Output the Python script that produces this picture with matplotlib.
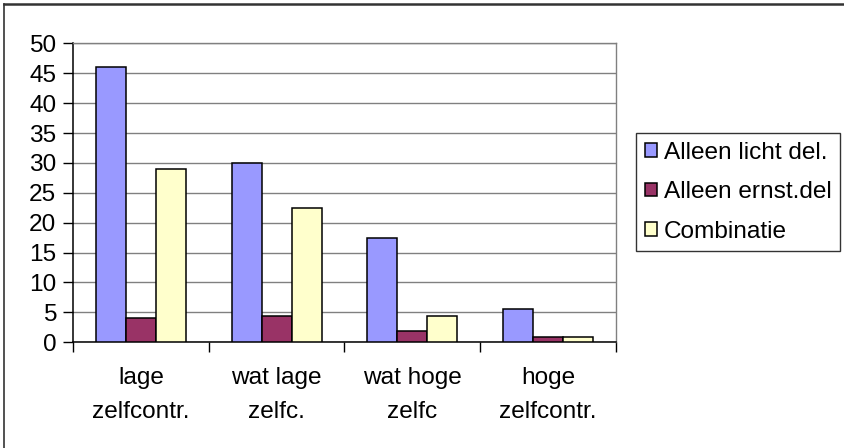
import matplotlib
matplotlib.use("Agg")
import matplotlib.pyplot as plt
import numpy as np

# categories and series values
categories = ["lage\nzelfcontr.", "wat lage\nzelfc.", "wat hoge\nzelfc", "hoge\nzelfcontr."]
licht = [46, 30, 17.5, 5.5]
ernst = [4, 4.4, 1.9, 0.85]
combinatie = [29, 22.5, 4.4, 0.9]

series_names = ["Alleen licht del.", "Alleen ernst.del", "Combinatie"]
colors = ["#9999FF", "#993366", "#FFFFCC"]

plt.rcParams["font.family"] = ["Liberation Sans", "DejaVu Sans"]
plt.rcParams["font.size"] = 17.6

fig = plt.figure(figsize=(8.45, 4.48), dpi=100)
fig.patch.set_facecolor("white")

# outer chart frame (only left and top edges visible)
fig.add_artist(plt.Line2D([4/845, 4/845], [0, 1 - 4/448], transform=fig.transFigure,
                          color="#333333", lw=1.2))
fig.add_artist(plt.Line2D([4/845, 1], [1 - 4/448, 1 - 4/448], transform=fig.transFigure,
                          color="#333333", lw=1.8))

ax = fig.add_axes([73/845, 1 - 342.3/448, (616 - 73)/845, (342.3 - 43.3)/448])

x = np.arange(len(categories)) + 1
w = 0.221
for i, (vals, name, c) in enumerate(zip([licht, ernst, combinatie], series_names, colors)):
    ax.bar(x + (i - 1) * w, vals, width=w, color=c, edgecolor="black",
           linewidth=1.1, label=name, zorder=3)

ax.set_xlim(0.5, len(categories) + 0.5)
ax.set_ylim(0, 50)
ax.set_yticks(np.arange(0, 51, 5))
ax.yaxis.grid(True, color="#808080", lw=1.0, zorder=0)

ax.set_xticks(np.arange(0.5, len(categories) + 1, 1))
ax.set_xticklabels([])
ax.set_xticks(x, minor=True)
ax.set_xticklabels(categories, minor=True, linespacing=1.7)
ax.tick_params(axis="x", which="minor", length=0, pad=17.5)
ax.tick_params(axis="x", which="major", length=7, width=1, color="black")
ax.tick_params(axis="y", length=7, width=1, color="black", pad=5)

for s in ["left", "bottom"]:
    ax.spines[s].set_color("black")
    ax.spines[s].set_linewidth(1.1)
for s in ["top", "right"]:
    ax.spines[s].set_color("#808080")
    ax.spines[s].set_linewidth(1.0)

leg = fig.legend(loc="upper left", bbox_to_anchor=(636/845, 1 - 133/448),
                 borderaxespad=0, fancybox=False, shadow=False, frameon=True,
                 handlelength=0.5, handleheight=0.5, handletextpad=0.3,
                 labelspacing=0.72, borderpad=0.35)
leg.get_frame().set_edgecolor("black")
leg.get_frame().set_linewidth(1.0)

fig.savefig("out.png", dpi=100, facecolor="white")
